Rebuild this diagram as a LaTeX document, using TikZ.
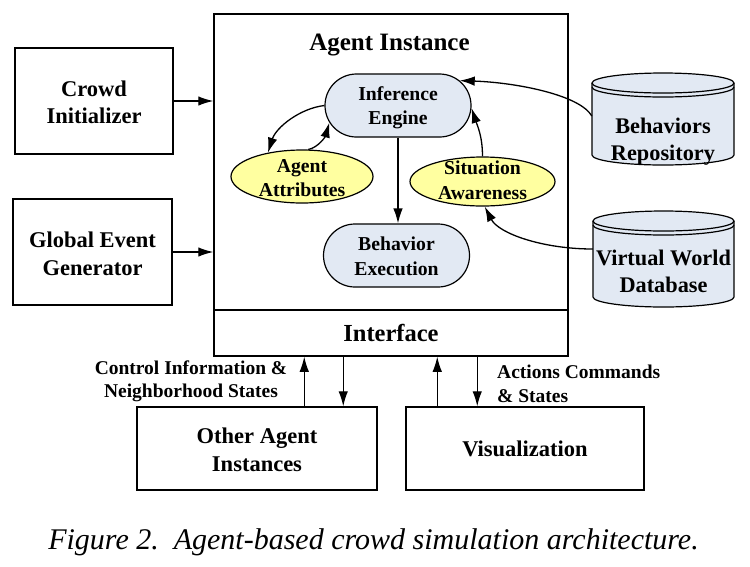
\documentclass[tikz,border=0pt]{standalone}
\usepackage{fontspec}
\setmainfont{Liberation Serif}
\usetikzlibrary{arrows.meta,shapes.geometric,shapes.misc,calc}
\definecolor{bluefill}{RGB}{226,233,243}
\definecolor{yellowfill}{RGB}{255,255,160}
\newcommand\fsz[2]{\fontsize{#1}{#2}\selectfont\bfseries}
\newcommand\dbcyl[4]{%
  \pgfmathsetmacro\dbcx{(#1+#2)/2}%
  \pgfmathsetmacro\dbrx{(#2-#1)/2}%
  \pgfmathsetmacro\dbta{#3+10}%
  \pgfmathsetmacro\dbtr{#3+14}%
  \pgfmathsetmacro\dbtrb{#3+24}%
  \pgfmathsetmacro\dbbb{#4-10}%
  \pgfmathsetmacro\dbkx{0.5523*\dbrx}%
  \fill[bluefill] (#1,\dbta) rectangle (#2,\dbbb);
  \fill[bluefill] (\dbcx,\dbta) ellipse [x radius=\dbrx, y radius=10];
  \fill[bluefill] (\dbcx,\dbbb) ellipse [x radius=\dbrx, y radius=10];
  \draw[cylline] (\dbcx,\dbta) ellipse [x radius=\dbrx, y radius=10];
  \draw[cylline] (#1,\dbta) -- (#1,\dbbb) .. controls +(0,5.5) and +(-\dbkx,0) .. (\dbcx,#4) .. controls +(\dbkx,0) and +(0,5.5) .. (#2,\dbbb) -- (#2,\dbta);
  \draw[cylline] (#1,\dbtr) .. controls +(0,5.5) and +(-\dbkx,0) .. (\dbcx,\dbtrb) .. controls +(\dbkx,0) and +(0,5.5) .. (#2,\dbtr);
}
\begin{document}
\begin{tikzpicture}[x=1pt,y=-1pt,
  box/.style={draw, line width=1.5pt, inner sep=0pt, align=center, font=\fsz{22.5}{27.5}},
  rr/.style={rounded rectangle, draw, fill=bluefill, line width=1.2pt, inner sep=1pt,
     minimum width=148pt, minimum height=63pt},
  yel/.style={ellipse, draw, fill=yellowfill, line width=1.2pt, inner sep=0pt},
  itxt/.style={align=center, inner sep=0pt, font=\fsz{19.7}{24.5}},
  cyltxt/.style={align=center, inner sep=0pt, font=\fsz{22.3}{27}},
  cylline/.style={line width=1.2pt},
  lbl/.style={inner sep=0pt, font=\fsz{19.5}{23.5}},
  arr/.style={-{Latex[length=15pt,width=9.5pt]}, line width=1.3pt},
]
\useasboundingbox (0,0) rectangle (750,566);
\fill[white] (0,0) rectangle (750,566);

% outer boxes
\node[box, minimum width=158pt, minimum height=106pt] (crowd) at (94,101) {};
\node[box, draw=none] (crowdtxt) at (94,102.5) {Crowd\\Initializer};
\node[box, minimum width=159pt, minimum height=106pt] (glob) at (92.5,252) {};
\node[box, draw=none] (globtxt) at (92.5,254) {Global Event\\Generator};
\node[box, minimum width=354pt, minimum height=296pt] (agent) at (391,162) {};
\node[inner sep=0pt, font=\fsz{25}{30}] (title) at (389.5,45) {Agent Instance};
\node[box, minimum width=354pt, minimum height=46pt, font=\fsz{24.5}{28}] (iface) at (391,333) {Interface};
\node[box, minimum width=240pt, minimum height=83pt] (other) at (257,448.5) {};
\node[box, draw=none] (othertxt) at (257,450) {Other Agent\\Instances};
\node[box, minimum width=238pt, minimum height=83pt] (vis) at (525,448.5) {Visualization};

% databases
\dbcyl{592}{734}{73}{165}
\dbcyl{593}{734}{211}{307}
\node[inner sep=0pt, minimum width=142pt, minimum height=92pt] (beh) at (663,119) {};
\node[cyltxt] (behtxt) at (663,141.5) {Behaviors\\Repository};
\node[inner sep=0pt, minimum width=141pt, minimum height=96pt] (vw) at (663.5,259) {};
\node[cyltxt] (vwtxt) at (663.5,271) {Virtual World\\Database};

% inner nodes
\node[rr] (inf) at (398,105.5) {};
\node[itxt] (inftxt) at (398,107.5) {Inference\\Engine};
\node[rr] (bex) at (396.5,255.5) {};
\node[itxt] (bextxt) at (396.5,256.5) {Behavior\\Execution};
\node[yel, minimum width=142pt, minimum height=53pt] (attr) at (302,176.5) {};
\node[itxt] (attrtxt) at (302,178) {Agent\\Attributes};
\node[yel, minimum width=145pt, minimum height=49pt] (sit) at (482.5,181.5) {};
\node[itxt] (sittxt) at (482.5,180.5) {Situation\\Awareness};

% labels
\node[lbl, align=center] (ctl) at (191,381.5) {Control Information \&\\Neighborhood States};
\node[lbl, align=left, anchor=west] (act) at (497,384) {Actions Commands\\\& States};

% caption
\node[inner sep=0pt, font=\fontsize{30}{35}\selectfont\itshape] (cap) at (373.5,542) {Figure 2.\ \ Agent-based crowd simulation architecture.};

% connectors
\draw[arr] (crowd.east) -- (crowd.east -| agent.west);
\draw[arr] (glob.east) -- (glob.east -| agent.west);
\draw[arr] (inf.south) -- (inf.south |- bex.north);
\draw[arr] (inf.west) .. controls +(-25,3) and +(8,-25) .. (attr.145);
\draw[arr] (attr.77) .. controls +(10,-2) and +(-4,14) .. (inf.194);
\draw[arr] (sit.north) .. controls +(0,-20) and +(6,18) .. (inf.-2);
\draw[arr] ([yshift=3pt]beh.west) .. controls +(-12,-21) and +(57,2) .. (inf.22);
\draw[arr] ([yshift=10pt]vw.west) .. controls +(-50,0) and +(14,27) .. (sit.275);

\draw[arr] ([xshift=168pt]other.north west) -- ([xshift=168pt]other.north west |- iface.south);
\draw[arr] ([xshift=207pt]other.north west |- iface.south) -- ([xshift=207pt]other.north west);
\draw[arr] ([xshift=32pt]vis.north west) -- ([xshift=32pt]vis.north west |- iface.south);
\draw[arr] ([xshift=72pt]vis.north west |- iface.south) -- ([xshift=72pt]vis.north west);
\end{tikzpicture}
\end{document}
